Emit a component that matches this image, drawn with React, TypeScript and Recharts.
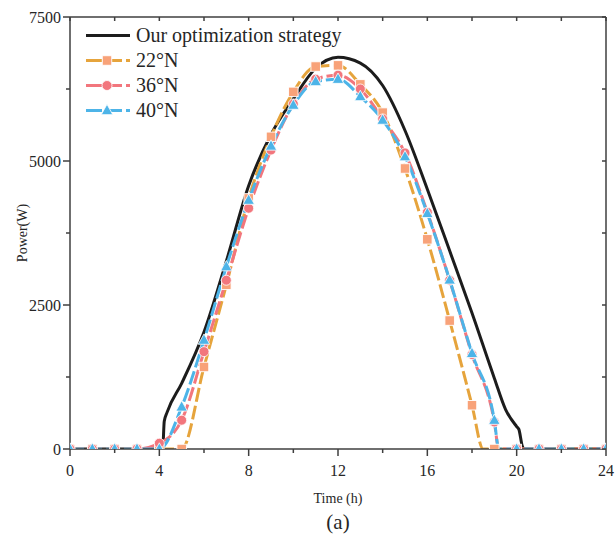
import React from 'react';
import { LineChart, Line, XAxis, YAxis, Label } from 'recharts';

const FONT = '"Liberation Serif", "Times New Roman", Times, serif';

// Integer hours (markers)
const hours = [0, 1, 2, 3, 4, 5, 6, 7, 8, 9, 10, 11, 12, 13, 14, 15, 16, 17, 18, 19, 20, 21, 22, 23, 24];

// 22°N
const lat22Hours = [0, 1, 2, 3, 4, 5, 6, 7, 8, 9, 10, 11, 12, 13, 14, 15, 16, 17, 18, 18.5, 19, 20, 21, 22, 23, 24];
const lat22Values = [0, 0, 0, 0, 0, 0, 1424, 2850, 4350, 5420, 6200, 6640, 6660, 6330, 5840, 4870, 3640, 2230, 760, 0, 0, 0, 0, 0, 0, 0];

// 36°N
const lat36Hours = [0, 1, 2, 3, 4, 5, 6, 7, 8, 9, 10, 11, 12, 13, 14, 15, 16, 17, 18, 19, 19.2, 20, 21, 22, 23, 24];
const lat36Values = [0, 0, 0, 0, 100, 500, 1690, 2930, 4180, 5190, 5990, 6420, 6490, 6250, 5730, 5140, 4110, 2930, 1640, 470, 0, 0, 0, 0, 0, 0];

// 40°N
const lat40Hours = [0, 1, 2, 3, 4, 5, 6, 7, 8, 9, 10, 11, 12, 13, 14, 15, 16, 17, 18, 19, 19.2, 20, 21, 22, 23, 24];
const lat40Values = [0, 0, 0, 0, 0, 730, 1890, 3165, 4320, 5260, 5970, 6380, 6420, 6120, 5710, 5075, 4090, 2935, 1660, 500, 0, 0, 0, 0, 0, 0];

// Our optimization strategy
const oursHours = [0, 1, 2, 3, 4, 4.15, 4.22, 4.35, 5, 6, 7, 8, 9, 10, 11, 12, 13, 14, 15, 16, 17, 18, 19, 19.5, 20, 20.1, 20.25, 20.32, 21, 22, 23, 24];
const oursValues = [0, 0, 0, 0, 0, 0, 480, 640, 1140, 2030, 3260, 4570, 5460, 6080, 6610, 6800, 6700, 6310, 5530, 4510, 3440, 2360, 1230, 690, 390, 340, 50, 0, 0, 0, 0, 0];

const xTicks = [0, 2, 4, 6, 8, 10, 12, 14, 16, 18, 20, 22, 24];
const yTicks = [0, 1250, 2500, 3750, 5000, 6250, 7500];

const seriesNames = ['Our optimization strategy', '22°N', '36°N', '40°N'];

const DASH = '14 4';

const COLORS = {
  ours: '#1c1c1c',
  lat22: '#E6A43C',
  lat22Marker: '#F8A279',
  lat36: '#F2767D',
  lat40: '#4DB4E8',
  axis: '#3f3f3f',
  text: '#262626',
};

const toPoints = (xs: number[], ys: number[]) => xs.map((h, i) => ({ h, v: ys[i] }));

const oursData = toPoints(oursHours, oursValues);
const lat22Data = toPoints(lat22Hours, lat22Values);
const lat36Data = toPoints(lat36Hours, lat36Values);
const lat40Data = toPoints(lat40Hours, lat40Values);

const isMarkerHour = (h: number) => hours.includes(h);

const SquareMark = ({ cx, cy, size = 9.5 }: any) => (
  <rect x={cx - size / 2} y={cy - size / 2} width={size} height={size} fill={COLORS.lat22Marker} stroke="#fff" strokeWidth={0.9} />
);
const CircleMark = ({ cx, cy, r = 5 }: any) => (
  <circle cx={cx} cy={cy} r={r} fill={COLORS.lat36} stroke="#fff" strokeWidth={0.8} />
);
const TriMark = ({ cx, cy, s = 11.5 }: any) => {
  const h = s * 0.9;
  return (
    <polygon
      points={`${cx},${cy - h * 0.6} ${cx - s / 2},${cy + h * 0.4} ${cx + s / 2},${cy + h * 0.4}`}
      fill={COLORS.lat40}
      stroke="#fff"
      strokeWidth={0.8}
    />
  );
};

const makeDot = (Mark: any) => (props: any) => {
  const { cx, cy, payload, index } = props;
  if (!payload || !isMarkerHour(payload.h) || cx == null || cy == null) return <g key={`d-${index}`} />;
  return (
    <g key={`d-${index}`}>
      <Mark cx={cx} cy={cy} />
    </g>
  );
};

const XTick = (props: any) => {
  const { x, y, payload } = props;
  const major = payload.value % 4 === 0;
  return (
    <g>
      <line x1={x} y1={y} x2={x} y2={y + (major ? 7 : 4)} stroke={COLORS.axis} strokeWidth={1.5} />
      {major && (
        <text x={x} y={y + 27} textAnchor="middle" style={{ fontFamily: FONT }} fontSize={16} fill={COLORS.text}>
          {payload.value}
        </text>
      )}
    </g>
  );
};

const YTick = (props: any) => {
  const { x, y, payload } = props;
  const major = payload.value % 2500 === 0;
  return (
    <g>
      <line x1={x - (major ? 7 : 4)} y1={y} x2={x} y2={y} stroke={COLORS.axis} strokeWidth={1.5} />
      {major && (
        <text x={x - 9} y={y} dy="0.35em" textAnchor="end" style={{ fontFamily: FONT }} fontSize={16} fill={COLORS.text}>
          {payload.value}
        </text>
      )}
    </g>
  );
};

const TopTick = (props: any) => {
  const { x, y } = props;
  return <line x1={x} y1={y} x2={x} y2={y + 4} stroke={COLORS.axis} strokeWidth={1.5} />;
};

const RightTick = (props: any) => {
  const { x, y } = props;
  return <line x1={x - 4} y1={y} x2={x} y2={y} stroke={COLORS.axis} strokeWidth={1.5} />;
};

const XLabelContent = (props: any) => {
  const vb = props.viewBox || {};
  const cx = (vb.x ?? 70) + (vb.width ?? 536) / 2;
  const y0 = vb.y ?? 449;
  return (
    <g>
      <text x={cx} y={y0 + 54} textAnchor="middle" style={{ fontFamily: FONT }} fontSize={14} fill={COLORS.text}>
        Time (h)
      </text>
      <text x={cx} y={y0 + 80} textAnchor="middle" style={{ fontFamily: FONT }} fontSize={21} fill={COLORS.text}>
        (a)
      </text>
    </g>
  );
};

const YLabelContent = (props: any) => {
  const vb = props.viewBox || {};
  const cy = (vb.y ?? 17) + (vb.height ?? 432) / 2;
  const x = 22;
  return (
    <text
      x={x}
      y={cy}
      transform={`rotate(-90 ${x} ${cy})`}
      textAnchor="middle"
      dominantBaseline="central"
      style={{ fontFamily: FONT }}
      fontSize={14}
      fill={COLORS.text}
    >
      Power(W)
    </text>
  );
};

const legendItems = [
  { name: seriesNames[0], color: COLORS.ours, mark: null as any, dash: undefined as any },
  { name: seriesNames[1], color: COLORS.lat22, mark: SquareMark, dash: '16 4' },
  { name: seriesNames[2], color: COLORS.lat36, mark: CircleMark, dash: '16 4' },
  { name: seriesNames[3], color: COLORS.lat40, mark: TriMark, dash: '16 4' },
];

const LegendBox = () => (
  <div
    style={{
      position: 'absolute',
      left: 85,
      top: 23,
      fontFamily: FONT,
      fontSize: 20,
      color: COLORS.text,
      lineHeight: '25px',
      pointerEvents: 'none',
    }}
  >
    {legendItems.map((it) => {
      const Mark = it.mark;
      return (
        <div key={it.name} style={{ display: 'flex', alignItems: 'center', height: 25, whiteSpace: 'nowrap' }}>
          <svg width={46} height={25} style={{ display: 'block' }}>
            <line x1={1} y1={12.5} x2={45} y2={12.5} stroke={it.color} strokeWidth={3} strokeDasharray={it.dash} />
            {Mark && <Mark cx={22} cy={12.5} />}
          </svg>
          <span style={{ marginLeft: 5 }}>{it.name}</span>
        </div>
      );
    })}
  </div>
);

export default function App() {
  return (
    <div style={{ position: 'absolute', left: 0, top: 0, width: 615, height: 535, overflow: 'hidden', background: '#fff' }}>
      <LineChart width={615} height={535} margin={{ top: 16, right: 8, bottom: 56, left: 0 }}>
        <XAxis
          type="number"
          dataKey="h"
          domain={[0, 24]}
          ticks={xTicks}
          interval={0}
          allowDataOverflow
          tickLine={false}
          tickSize={0}
          tickMargin={0}
          axisLine={{ stroke: COLORS.axis, strokeWidth: 1.5 }}
          tick={(p: any) => <XTick {...p} />}
          height={30}
        >
          <Label content={(p: any) => <XLabelContent {...p} />} />
        </XAxis>
        <XAxis
          xAxisId="top"
          orientation="top"
          type="number"
          dataKey="h"
          domain={[0, 24]}
          ticks={xTicks}
          interval={0}
          allowDataOverflow
          tickLine={false}
          tickSize={0}
          tickMargin={0}
          axisLine={{ stroke: COLORS.axis, strokeWidth: 1.5 }}
          tick={(p: any) => <TopTick {...p} />}
          height={1}
        />
        <YAxis
          type="number"
          dataKey="v"
          domain={[0, 7500]}
          ticks={yTicks}
          interval={0}
          allowDataOverflow
          tickLine={false}
          tickSize={0}
          tickMargin={0}
          axisLine={{ stroke: COLORS.axis, strokeWidth: 1.5 }}
          tick={(p: any) => <YTick {...p} />}
          width={70}
        >
          <Label content={(p: any) => <YLabelContent {...p} />} />
        </YAxis>
        <YAxis
          yAxisId="right"
          orientation="right"
          type="number"
          dataKey="v"
          domain={[0, 7500]}
          ticks={yTicks}
          interval={0}
          allowDataOverflow
          tickLine={false}
          tickSize={0}
          tickMargin={0}
          axisLine={{ stroke: COLORS.axis, strokeWidth: 1.5 }}
          tick={(p: any) => <RightTick {...p} />}
          width={1}
        />
        {/* invisible series bound to the frame axes so they render */}
        <Line
          data={oursData}
          dataKey="v"
          xAxisId="top"
          yAxisId="right"
          stroke="none"
          dot={false}
          activeDot={false}
          legendType="none"
          isAnimationActive={false}
        />
        <Line
          data={oursData}
          dataKey="v"
          name={seriesNames[0]}
          type="monotone"
          stroke={COLORS.ours}
          strokeWidth={3}
          dot={false}
          activeDot={false}
          isAnimationActive={false}
        />
        <Line
          data={lat22Data}
          dataKey="v"
          name={seriesNames[1]}
          type="monotone"
          stroke={COLORS.lat22}
          strokeWidth={3}
          strokeDasharray={DASH}
          dot={makeDot(SquareMark)}
          activeDot={false}
          isAnimationActive={false}
        />
        <Line
          data={lat36Data}
          dataKey="v"
          name={seriesNames[2]}
          type="monotone"
          stroke={COLORS.lat36}
          strokeWidth={3}
          strokeDasharray={DASH}
          dot={makeDot(CircleMark)}
          activeDot={false}
          isAnimationActive={false}
        />
        <Line
          data={lat40Data}
          dataKey="v"
          name={seriesNames[3]}
          type="monotone"
          stroke={COLORS.lat40}
          strokeWidth={3}
          strokeDasharray={DASH}
          dot={makeDot(TriMark)}
          activeDot={false}
          isAnimationActive={false}
        />
      </LineChart>
      <LegendBox />
    </div>
  );
}
